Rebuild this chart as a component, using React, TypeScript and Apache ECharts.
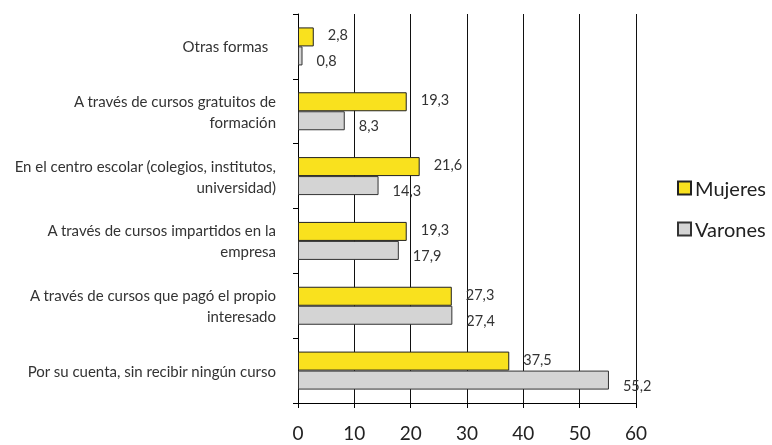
import React, { useEffect, useRef } from "react";
import * as echarts from "echarts";

const categories = [
  "Por su cuenta, sin recibir ningún curso",
  "A través de cursos que pagó el propio\ninteresado",
  "A través de cursos impartidos en la\nempresa",
  "En el centro escolar (colegios, institutos,\nuniversidad)",
  "A través de cursos gratuitos de\nformación",
  "Otras formas  ",
];
const mujeres = [37.5, 27.3, 19.3, 21.6, 19.3, 2.8];
const varones = [55.2, 27.4, 17.9, 14.3, 8.3, 0.8];
const seriesNames = ["Mujeres", "Varones"];

const FONT = "Lato, 'Open Sans', sans-serif";
const fmt = (p: any) => String(p.value).replace(".", ",");

export default function App() {
  const ref = useRef<HTMLDivElement>(null);
  useEffect(() => {
    if (!ref.current) return;
    const chart = echarts.init(ref.current, undefined, { renderer: "svg" });
    chart.setOption({
      animation: false,
      textStyle: { fontFamily: FONT },
      grid: { left: 298, right: 136, top: 14, bottom: 42, containLabel: false },
      legend: {
        orient: "vertical",
        left: 677,
        top: 178,
        padding: 0,
        itemWidth: 13,
        itemHeight: 13,
        itemGap: 21,
        icon: "rect",
        textStyle: { fontSize: 20, color: "#222", fontFamily: FONT, padding: [0, 0, 0, -1] },
        data: seriesNames,
      },
      xAxis: {
        type: "value",
        min: 0,
        max: 60,
        interval: 10,
        axisLine: { show: true, lineStyle: { color: "#000", width: 1 } },
        axisTick: { show: true, length: 5, lineStyle: { color: "#000" } },
        axisLabel: { fontSize: 19, color: "#222", margin: 20, fontFamily: FONT },
        splitLine: { show: true, lineStyle: { color: "#111", width: 1 } },
      },
      yAxis: {
        type: "category",
        data: categories,
        axisLine: { show: true, lineStyle: { color: "#000", width: 1 } },
        axisTick: { show: true, length: 5, lineStyle: { color: "#000" } },
        axisLabel: {
          fontSize: 15,
          color: "#333",
          margin: 22,
          lineHeight: 21,
          align: "right",
          fontFamily: FONT,
        },
      },
      series: [
        {
          name: seriesNames[0],
          type: "bar",
          data: mujeres,
          barWidth: 19,
          barGap: "0%",
          itemStyle: { color: "#F9E11E", borderColor: "#222", borderWidth: 1 },
          label: {
            show: true,
            position: "right",
            distance: 14,
            offset: [0, -2],
            formatter: fmt,
            fontSize: 14.5,
            color: "#333",
            fontFamily: FONT,
          },
        },
        {
          name: seriesNames[1],
          type: "bar",
          data: varones,
          barWidth: 19,
          barGap: "0%",
          itemStyle: { color: "#D4D4D4", borderColor: "#333", borderWidth: 1 },
          label: {
            show: true,
            position: "right",
            distance: 14,
            offset: [0, 5],
            formatter: fmt,
            fontSize: 14.5,
            color: "#333",
            fontFamily: FONT,
          },
        },
      ],
    });
    return () => chart.dispose();
  }, []);
  return (
    <div
      ref={ref}
      style={{ position: "fixed", left: 0, top: 0, width: 772, height: 445 }}
    />
  );
}
